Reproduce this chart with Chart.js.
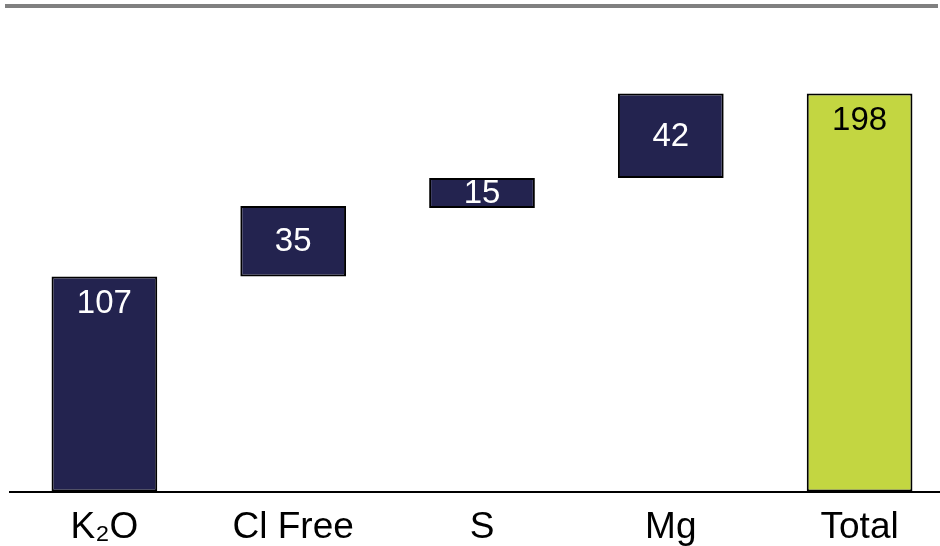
<!DOCTYPE html>
<html>
<head>
<meta charset="utf-8">
<script src="https://cdn.jsdelivr.net/npm/chart.js@4/dist/chart.umd.min.js"></script>
<style>
  html, body { margin: 0; padding: 0; background: #fff; overflow: hidden; }
  #topline { position: absolute; left: 5px; top: 4px; width: 933px; height: 4px; background: #808080; }
  #wrap { position: absolute; left: 0; top: 0; width: 954px; height: 556px; }
</style>
</head>
<body>
<div id="wrap"><canvas id="nutrient-plot"></canvas></div>
<div id="topline"></div>
<script>
// waterfall: each step floats on top of the previous running total
let categories = ['K\u2082O', 'Cl Free', 'S', 'Mg', 'Total']
let bar_starts = [0, 107, 141, 156, 0]
let bar_ends = [107, 142, 156, 198, 198]
let bar_labels = ['107', '35', '15', '42', '198']

let navy = '#23234f'
let lime = '#c3d641'

let bar_data = categories.map((c, i) => [bar_starts[i], bar_ends[i]])

let value_label_plugin = {
    id: 'valueLabels',
    afterDatasetsDraw(chart) {
        let ctx = chart.ctx
        let meta = chart.getDatasetMeta(0)
        ctx.save()
        ctx.font = '33px "Liberation Sans", Arial, sans-serif'
        ctx.textAlign = 'center'
        ctx.textBaseline = 'middle'
        meta.data.forEach((bar, i) => {
            let top = Math.min(bar.y, bar.base)
            let bottom = Math.max(bar.y, bar.base)
            let y = (top + bottom) / 2
            // bars standing on the axis get their label near the top
            if (bar_starts[i] === 0) y = top + 26
            ctx.fillStyle = i === categories.length - 1 ? '#000' : '#fff'
            ctx.fillText(bar_labels[i], bar.x, y + 1)
        })
        ctx.restore()
    }
}

document.addEventListener("DOMContentLoaded", () => {
    Chart.defaults.font.family = '"Liberation Sans", Arial, sans-serif'
    Chart.defaults.color = '#000'
    Chart.defaults.plugins.legend.display = false
    Chart.defaults.plugins.tooltip.enabled = false

    new Chart(document.getElementById("nutrient-plot"), {
        type: 'bar',
        data: {
            labels: categories,
            datasets: [{
                data: bar_data,
                backgroundColor: categories.map((c, i) => i === categories.length - 1 ? lime : navy),
                borderColor: '#000',
                borderWidth: 2,
                borderSkipped: false,
                barPercentage: 0.56,
                categoryPercentage: 1.0,
            }]
        },
        options: {
            responsive: true,
            maintainAspectRatio: false,
            animation: false,
            layout: { padding: { left: 10, right: 0, top: 9, bottom: 0 } },
            scales: {
                x: {
                    grid: { display: false },
                    border: { display: true, color: '#000', width: 2 },
                    ticks: { font: { size: 37 }, padding: 6, maxRotation: 0 }
                },
                y: {
                    display: false,
                    min: 0,
                    max: 240,
                }
            }
        },
        plugins: [value_label_plugin]
    })
})
</script>
</body>
</html>
